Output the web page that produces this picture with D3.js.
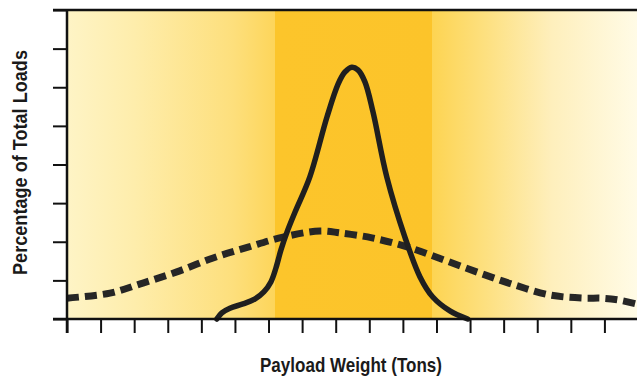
<!DOCTYPE html>
<html>
<head>
<meta charset="utf-8">
<script src="https://cdn.jsdelivr.net/npm/d3@7"></script>
<style>
  html, body { margin: 0; padding: 0; background: #ffffff; }
  svg { display: block; }
</style>
</head>
<body>
<svg id="chart" width="637" height="377"></svg>
<script>
// ---- Data ----
const xTicks = d3.range(0, 18);          // payload weight tick positions (unlabelled)
const yTicks = d3.range(0, 9);           // percentage tick positions (unlabelled)

// solid curve: narrow distribution
const narrowX = [4.46, 4.61, 4.85, 5.24, 5.60, 5.86, 6.07, 6.22, 6.37, 6.55, 6.79, 7.23, 7.74, 8.07, 8.27, 8.48, 8.66, 8.87, 9.11, 9.52, 10.06, 10.51, 10.89, 11.40, 11.93];
const narrowY = [0.0, 0.16, 0.28, 0.39, 0.52, 0.70, 0.96, 1.32, 1.79, 2.25, 2.77, 3.68, 5.23, 6.08, 6.39, 6.52, 6.45, 6.14, 5.36, 3.68, 2.12, 1.09, 0.57, 0.21, 0.0];

// dashed curve: wide distribution
const wideX = [0, 1.28, 2.26, 3.27, 4.35, 5.39, 6.43, 7.53, 8.13, 9.08, 10.15, 11.22, 12.29, 13.33, 14.38, 15.39, 15.92, 16.43, 17.0];
const wideY = [0.54, 0.67, 0.93, 1.22, 1.58, 1.86, 2.12, 2.28, 2.23, 2.10, 1.86, 1.53, 1.19, 0.88, 0.62, 0.54, 0.54, 0.49, 0.38];

// highlighted band (payload range)
const bandRange = [6.2, 10.87];

const xLabel = "Payload Weight (Tons)";
const yLabel = "Percentage of Total Loads";

// ---- Layout ----
const svg = d3.select("#chart");
const W = 637, H = 377;
const mLeft = 67, mTop = 10, mBottom = 319, mRight = 638;

const x = d3.scaleLinear().domain([0, 17]).range([mLeft, mRight]);
const y = d3.scaleLinear().domain([0, 8]).range([mBottom, mTop]);

// background gradient
const defs = svg.append("defs");
const grad = defs.append("linearGradient")
  .attr("id", "bg").attr("gradientUnits", "userSpaceOnUse")
  .attr("x1", mLeft).attr("x2", W).attr("y1", 0).attr("y2", 0);
const b0 = (x(bandRange[0]) - mLeft) / (W - mLeft);
const b1 = (x(bandRange[1]) - mLeft) / (W - mLeft);
[
  [0, "#fef4c6"],
  [0.12, "#feedab"],
  [b0 * 0.8, "#fddf7c"],
  [b0, "#fdd55a"],
  [b0, "#fcc52b"],
  [b1, "#fcc42a"],
  [b1, "#fdd452"],
  [b1 + 0.1, "#fde183"],
  [0.85, "#feefbc"],
  [1, "#fffbe6"]
].forEach(([o, c]) => grad.append("stop").attr("offset", o).attr("stop-color", c));

svg.append("rect")
  .attr("x", mLeft).attr("y", mTop)
  .attr("width", W - mLeft).attr("height", mBottom - mTop)
  .attr("fill", "url(#bg)");

// curves
const line = d3.line().x(d => x(d[0])).y(d => y(d[1])).curve(d3.curveCatmullRom.alpha(0.5));

svg.append("path")
  .datum(d3.zip(wideX, wideY))
  .attr("d", line)
  .attr("fill", "none")
  .attr("stroke", "#262626")
  .attr("stroke-width", 7)
  .attr("stroke-dasharray", "12,6");

svg.append("path")
  .datum(d3.zip(narrowX, narrowY))
  .attr("d", line)
  .attr("fill", "none")
  .attr("stroke", "#1f1f1f")
  .attr("stroke-width", 5.5)
  .attr("stroke-linecap", "round")
  .attr("stroke-linejoin", "round");

// axes
const yAxis = d3.axisLeft(y).tickValues(yTicks).tickSize(14).tickFormat("");
const gy = svg.append("g").attr("transform", `translate(${mLeft},0)`).call(yAxis);
gy.select(".domain").remove();
gy.selectAll(".tick line").attr("stroke", "#111").attr("stroke-width", 2);

const xAxis = d3.axisBottom(x).tickValues(xTicks).tickSize(14).tickFormat("");
const gx = svg.append("g").attr("transform", `translate(0,${mBottom})`).call(xAxis);
gx.select(".domain").remove();
gx.selectAll(".tick line").attr("stroke", "#111").attr("stroke-width", 2);

// frame lines
svg.append("line").attr("x1", mLeft - 14).attr("x2", W).attr("y1", mTop).attr("y2", mTop)
  .attr("stroke", "#111").attr("stroke-width", 2.5);
svg.append("line").attr("x1", mLeft - 14).attr("x2", W).attr("y1", mBottom).attr("y2", mBottom)
  .attr("stroke", "#111").attr("stroke-width", 2.5);
svg.append("line").attr("x1", mLeft).attr("x2", mLeft).attr("y1", mTop).attr("y2", mBottom + 14)
  .attr("stroke", "#111").attr("stroke-width", 2.5);

// labels (condensed bold look via textLength)
const fontFam = "'Liberation Sans', Arial, sans-serif";
svg.append("text")
  .attr("x", 260).attr("y", 372)
  .attr("textLength", 182).attr("lengthAdjust", "spacingAndGlyphs")
  .attr("font-family", fontFam).attr("font-weight", "bold").attr("font-size", 21)
  .attr("fill", "#1a1a1a")
  .text(xLabel);

svg.append("text")
  .attr("transform", "translate(27,275) rotate(-90)")
  .attr("textLength", 225).attr("lengthAdjust", "spacingAndGlyphs")
  .attr("font-family", fontFam).attr("font-weight", "bold").attr("font-size", 20)
  .attr("fill", "#1a1a1a")
  .text(yLabel);
</script>
</body>
</html>
